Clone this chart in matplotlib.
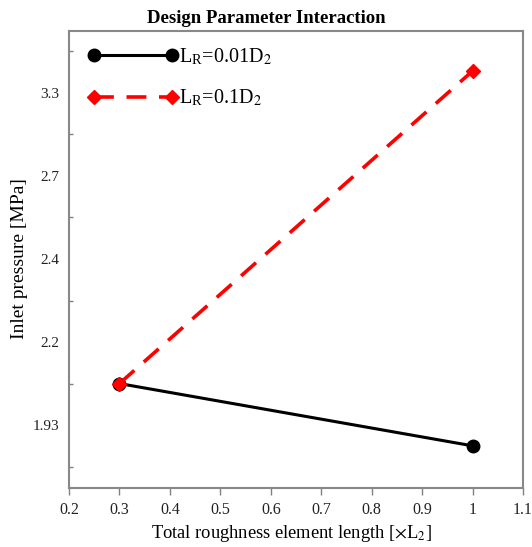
import numpy as np
import matplotlib
matplotlib.use("Agg")
import matplotlib.pyplot as plt

plt.rcParams['font.family'] = ['Liberation Serif', 'DejaVu Serif']
plt.rcParams['mathtext.fontset'] = 'stix'

# ---- data ----
x_vals = [0.3, 1.0]
p_lr001 = [2.066, 1.864]   # L_R = 0.01 D2
p_lr01 = [2.066, 3.455]    # L_R = 0.1 D2
x_ticks = [0.2, 0.3, 0.4, 0.5, 0.6, 0.7, 0.8, 0.9, 1.0, 1.1]
x_ticklabels = ['0.2', '0.3', '0.4', '0.5', '0.6', '0.7', '0.8', '0.9', '1', '1.1']
y_ticks = [1.93, 2.2, 2.4, 2.7, 3.3]
y_ticklabels = ['1.93', '2.2', '2.4', '2.7', '3.3']

# non-uniform axis: labelled values are equally spaced
anchor_v = [1.93 - 0.27 * 10] + y_ticks + [3.3 + 0.6 * 10]
anchor_p = [-10, 0, 1, 2, 3, 4, 14]


def fwd(v):
    return np.interp(v, anchor_v, anchor_p)


def inv(p):
    return np.interp(p, anchor_p, anchor_v)


fig = plt.figure(figsize=(5.32, 5.47), dpi=100)
ax = fig.add_axes([69 / 532, 1 - 488 / 547, (523 - 69) / 532, (488 - 31) / 547])
ax.set_yscale('function', functions=(fwd, inv))

ax.plot(x_vals, p_lr001, color='black', lw=2.2, marker='o', ms=9,
        label=r'L$_\mathregular{R}$=0.01D$_2$')
ax.plot(x_vals, p_lr01, color='#ff0000', lw=2.6, ls=(0, (5.5, 3.5)), marker='D', ms=7,
        label=r'L$_\mathregular{R}$=0.1D$_2$')

ax.set_xlim(0.2, 1.1)
ax.set_ylim(inv(-0.751), inv(4.739))
ax.set_xticks(x_ticks)
ax.set_xticklabels(x_ticklabels)
ax.set_yticks(y_ticks)
ax.set_yticklabels(y_ticklabels)
ax.set_yticks([inv(p) for p in [-0.5, 0.5, 1.5, 2.5, 3.5, 4.5]], minor=True)
ax.tick_params(axis='y', which='major', length=0, pad=7, labelsize=11, colors='#222222')
ax.tick_params(axis='y', which='minor', length=3, width=1, direction='in', color='#808080')
ax.tick_params(axis='x', which='major', length=5, width=1, direction='out', color='#808080',
               pad=5, labelsize=11.5, labelcolor='#222222')
ax.tick_params(axis='x', which='minor', length=0)

for s in ax.spines.values():
    s.set_color('#888888')
    s.set_linewidth(1.5)

ax.set_title('Design Parameter Interaction', fontsize=13.5, fontweight='bold', pad=6,
             x=(266 - 69) / (523 - 69))
ax.set_xlabel(r'Total roughness element length [$\times$L$_2$]', fontsize=13.3, labelpad=4,
              x=(291 - 69) / (523 - 69))
ax.set_ylabel('Inlet pressure [MPa]', fontsize=14, labelpad=3, y=(488 - 259) / (488 - 31))

ax.legend(loc='upper left', frameon=False, fontsize=14.5, handlelength=4.45,
          numpoints=2, labelspacing=1.05, handletextpad=0.05, borderpad=0.4,
          bbox_to_anchor=(0.0, 1.0 + 4 / 457), borderaxespad=0.55)

fig.savefig('out.png', dpi=100)
